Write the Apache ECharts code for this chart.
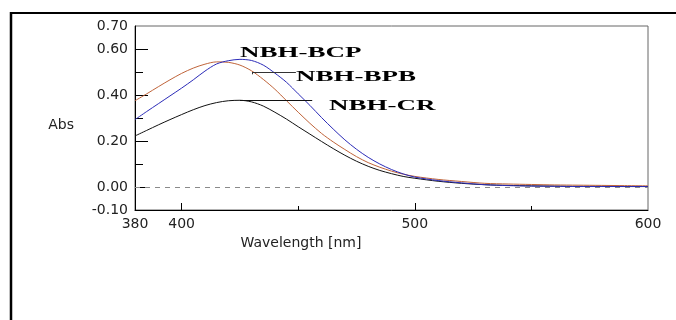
<!DOCTYPE html>
<html><head><meta charset="utf-8">
<script src="https://cdn.jsdelivr.net/npm/echarts@6/dist/echarts.min.js"></script>
<style>html,body{margin:0;padding:0;background:#fff}#c{width:676px;height:320px}</style>
</head><body><div id="c"></div>
<script>
// ---- data ----
const wavelengths = [380,385,390,395,400,405,410,415,420,425,430,435,440,445,450,455,460,465,470,475,480,485,490,495,500,510,520,530,540,550,560,570,580,590,600];
const bcp = [0.293,0.328,0.362,0.396,0.430,0.466,0.504,0.535,0.549,0.555,0.550,0.530,0.495,0.455,0.405,0.355,0.302,0.252,0.205,0.164,0.129,0.100,0.076,0.057,0.043,0.028,0.018,0.010,0.006,0.004,0.003,0.002,0.002,0.002,0.002];
const bpb = [0.375,0.405,0.436,0.466,0.494,0.517,0.534,0.544,0.542,0.530,0.505,0.468,0.425,0.375,0.325,0.277,0.233,0.196,0.163,0.132,0.106,0.086,0.069,0.056,0.046,0.033,0.024,0.016,0.013,0.011,0.009,0.008,0.007,0.006,0.005];
const cr  = [0.222,0.246,0.270,0.293,0.315,0.336,0.354,0.367,0.375,0.377,0.370,0.352,0.325,0.295,0.262,0.230,0.198,0.167,0.138,0.112,0.090,0.072,0.058,0.046,0.038,0.025,0.016,0.010,0.007,0.005,0.004,0.003,0.003,0.002,0.002];
const seriesNames = ['NBH-BCP','NBH-BPB','NBH-CR'];
const xLabelValues = [380,400,500,600];
const xMajorTicks = [400,500];
const xMinorTicks = [450,550];
const yLabelValues = [-0.1,0,0.2,0.4,0.6,0.7];
const yMajorTicks = [0,0.2,0.4,0.6];
const yMinorTicks = [0.1,0.3,0.5];
// annotation anchors in data coordinates [nm, Abs]
const labelAnchors = [[425,0.583],[449,0.478],[463.2,0.353]];
const bpbLeader = [[430.2,0.500],[449,0.500]];
const bpbLeaderTick = [[430.2,0.500],[430.2,0.490]];
const crLeader = [[425,0.376],[456,0.376]];

const colors = ['#2b2bb8','#c0643a','#111111'];
const values = [bcp, bpb, cr];

const chart = echarts.init(document.getElementById('c'), null, {renderer:'canvas'});
const tickFont = {fontFamily:'DejaVu Sans', fontSize:14, color:'#222'};

function seg(a){ return [{coord:a[0]},{coord:a[1]}]; }

const series = seriesNames.map((n,i)=>({
  name:n, type:'line', xAxisIndex:0, yAxisIndex:0,
  data: wavelengths.map((w,k)=>[w, values[i][k]]),
  smooth:0.3, showSymbol:false, symbol:'none',
  lineStyle:{color:colors[i], width:1}, itemStyle:{color:colors[i]},
  silent:true, z: 3-i
}));
series[0].markLine = {silent:true, symbol:'none', label:{show:false},
  lineStyle:{type:[5,5], color:'#8a8a8a', width:1},
  data:[{yAxis:0}]};
series[1].markLine = {silent:true, symbol:'none', label:{show:false},
  lineStyle:{type:'solid', color:'#333', width:1},
  data:[seg(bpbLeader), seg(bpbLeaderTick)]};
series[2].markLine = {silent:true, symbol:'none', label:{show:false},
  lineStyle:{type:'solid', color:'#111', width:1},
  data:[seg(crLeader)]};

chart.setOption({
  animation:false,
  backgroundColor:'#fff',
  grid:{left:135, right:28, top:26, bottom:110, show:true, borderColor:'#666', borderWidth:1, backgroundColor:'transparent'},
  xAxis:[{
    type:'value', min:380, max:600, position:'bottom',
    name:'Wavelength [nm]', nameLocation:'middle', nameGap:22,
    nameTextStyle:{fontFamily:'DejaVu Sans', fontSize:14, color:'#222', padding:[0,181,0,0]},
    axisLine:{show:true, onZero:false, lineStyle:{color:'#000', width:1}},
    axisTick:{show:true, inside:true, length:7, customValues:xMajorTicks, lineStyle:{color:'#000'}},
    axisLabel:Object.assign({show:true, margin:7, customValues:xLabelValues, formatter:v=>String(v)}, tickFont),
    splitLine:{show:false}
  },{
    type:'value', min:380, max:600, position:'bottom',
    axisLine:{show:false, onZero:false},
    axisTick:{show:true, inside:true, length:4, customValues:xMinorTicks, lineStyle:{color:'#000'}},
    axisLabel:{show:false}, splitLine:{show:false}
  }],
  yAxis:[{
    type:'value', min:-0.1, max:0.7, position:'left',
    name:'Abs', nameLocation:'middle', nameRotate:0, nameGap:61,
    nameTextStyle:{fontFamily:'DejaVu Sans', fontSize:14, color:'#222', verticalAlign:'top'},
    axisLine:{show:true, onZero:false, lineStyle:{color:'#000', width:1}},
    axisTick:{show:true, inside:true, length:13, customValues:yMajorTicks, lineStyle:{color:'#000'}},
    axisLabel:Object.assign({show:true, margin:7, customValues:yLabelValues, formatter:v=>v.toFixed(2)}, tickFont),
    splitLine:{show:false}
  },{
    type:'value', min:-0.1, max:0.7, position:'left',
    axisLine:{show:false, onZero:false},
    axisTick:{show:true, inside:true, length:8, customValues:yMinorTicks, lineStyle:{color:'#000'}},
    axisLabel:{show:false}, splitLine:{show:false}
  }],
  series: series
});

// annotation texts placed through the chart's own coordinate conversion
const graphics = [
  {id:'frameTop', type:'line', shape:{x1:10, y1:13, x2:676, y2:13}, style:{stroke:'#000', lineWidth:2}, silent:true},
  {id:'frameLeft', type:'line', shape:{x1:11, y1:12, x2:11, y2:320}, style:{stroke:'#000', lineWidth:2.5}, silent:true}
];
seriesNames.forEach((n,i)=>{
  const p = chart.convertToPixel({gridIndex:0}, labelAnchors[i]);
  graphics.push({id:'lbl'+i, type:'text', x:p[0], y:p[1], scaleX:1.8, scaleY:1, silent:true,
    style:{text:n, font:'bold 15px "Liberation Serif"', fill:'#000', align:'left', verticalAlign:'middle'}});
});
chart.setOption({graphic:graphics});
</script>
</body></html>
